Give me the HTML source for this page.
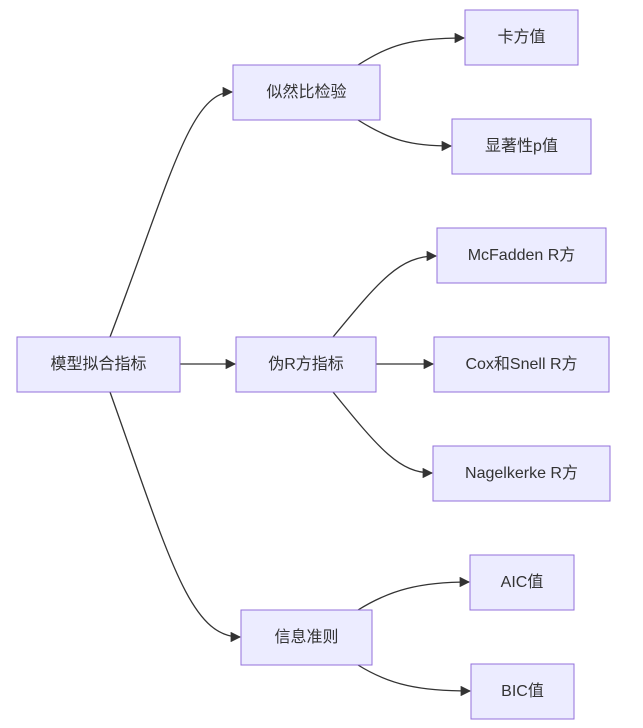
<!DOCTYPE html>
<html><head><meta charset="utf-8"><style>body{margin:0;background:#fff}svg{display:block}</style></head><body>
<svg width="643" height="728" viewBox="0 0 643 728" xmlns="http://www.w3.org/2000/svg">
<defs><marker id="a" viewBox="0 0 10 10" refX="9" refY="5" markerWidth="8" markerHeight="8" orient="auto"><path d="M0,0L10,5L0,10z" fill="#333"/></marker></defs>
<g fill="none" stroke="#333" stroke-width="1.3" marker-end="url(#a)">
<path d="M110,337 C170,180 190,92 232,92"/>
<path d="M180,364 L235,364"/>
<path d="M110,392 C170,560 190,637 240,637"/>
<path d="M358,65 C390,45 410,38 464,38"/>
<path d="M358,120 C390,140 410,146 451,146"/>
<path d="M333,337 C380,280 400,256 436,256"/>
<path d="M376,364 L433,364"/>
<path d="M333,392 C380,450 400,473 432,473"/>
<path d="M358,610 C390,590 420,582 469,582"/>
<path d="M358,665 C390,685 420,691 470,691"/>
</g>
<g fill="#ECECFF" stroke="#9370DB" stroke-width="1">
<rect x="17" y="337" width="163" height="55"/>
<rect x="233" y="65" width="147" height="55"/>
<rect x="236" y="337" width="140" height="55"/>
<rect x="241" y="610" width="131" height="55"/>
<rect x="465" y="10" width="113" height="55"/>
<rect x="452" y="119" width="139" height="55"/>
<rect x="437" y="228" width="169" height="55"/>
<rect x="434" y="337" width="175" height="55"/>
<rect x="433" y="446" width="177" height="55"/>
<rect x="470" y="555" width="104" height="55"/>
<rect x="471" y="664" width="103" height="55"/>
</g>
<g font-family="Liberation Sans, Noto Sans CJK SC, sans-serif" font-size="16" fill="#333" text-anchor="middle" dominant-baseline="central">
<text x="98.5" y="364.5">模型拟合指标</text>
<text x="306.5" y="92.5">似然比检验</text>
<text x="306" y="364.5">伪R方指标</text>
<text x="306.5" y="637.5">信息准则</text>
<text x="521.5" y="37.5">卡方值</text>
<text x="521.5" y="146.5">显著性p值</text>
<text x="521.5" y="255.5">McFadden R方</text>
<text x="521.5" y="364.5">Cox和Snell R方</text>
<text x="521.5" y="473.5">Nagelkerke R方</text>
<text x="522" y="582.5">AIC值</text>
<text x="522.5" y="691.5">BIC值</text>
</g>
</svg>
</body></html>
